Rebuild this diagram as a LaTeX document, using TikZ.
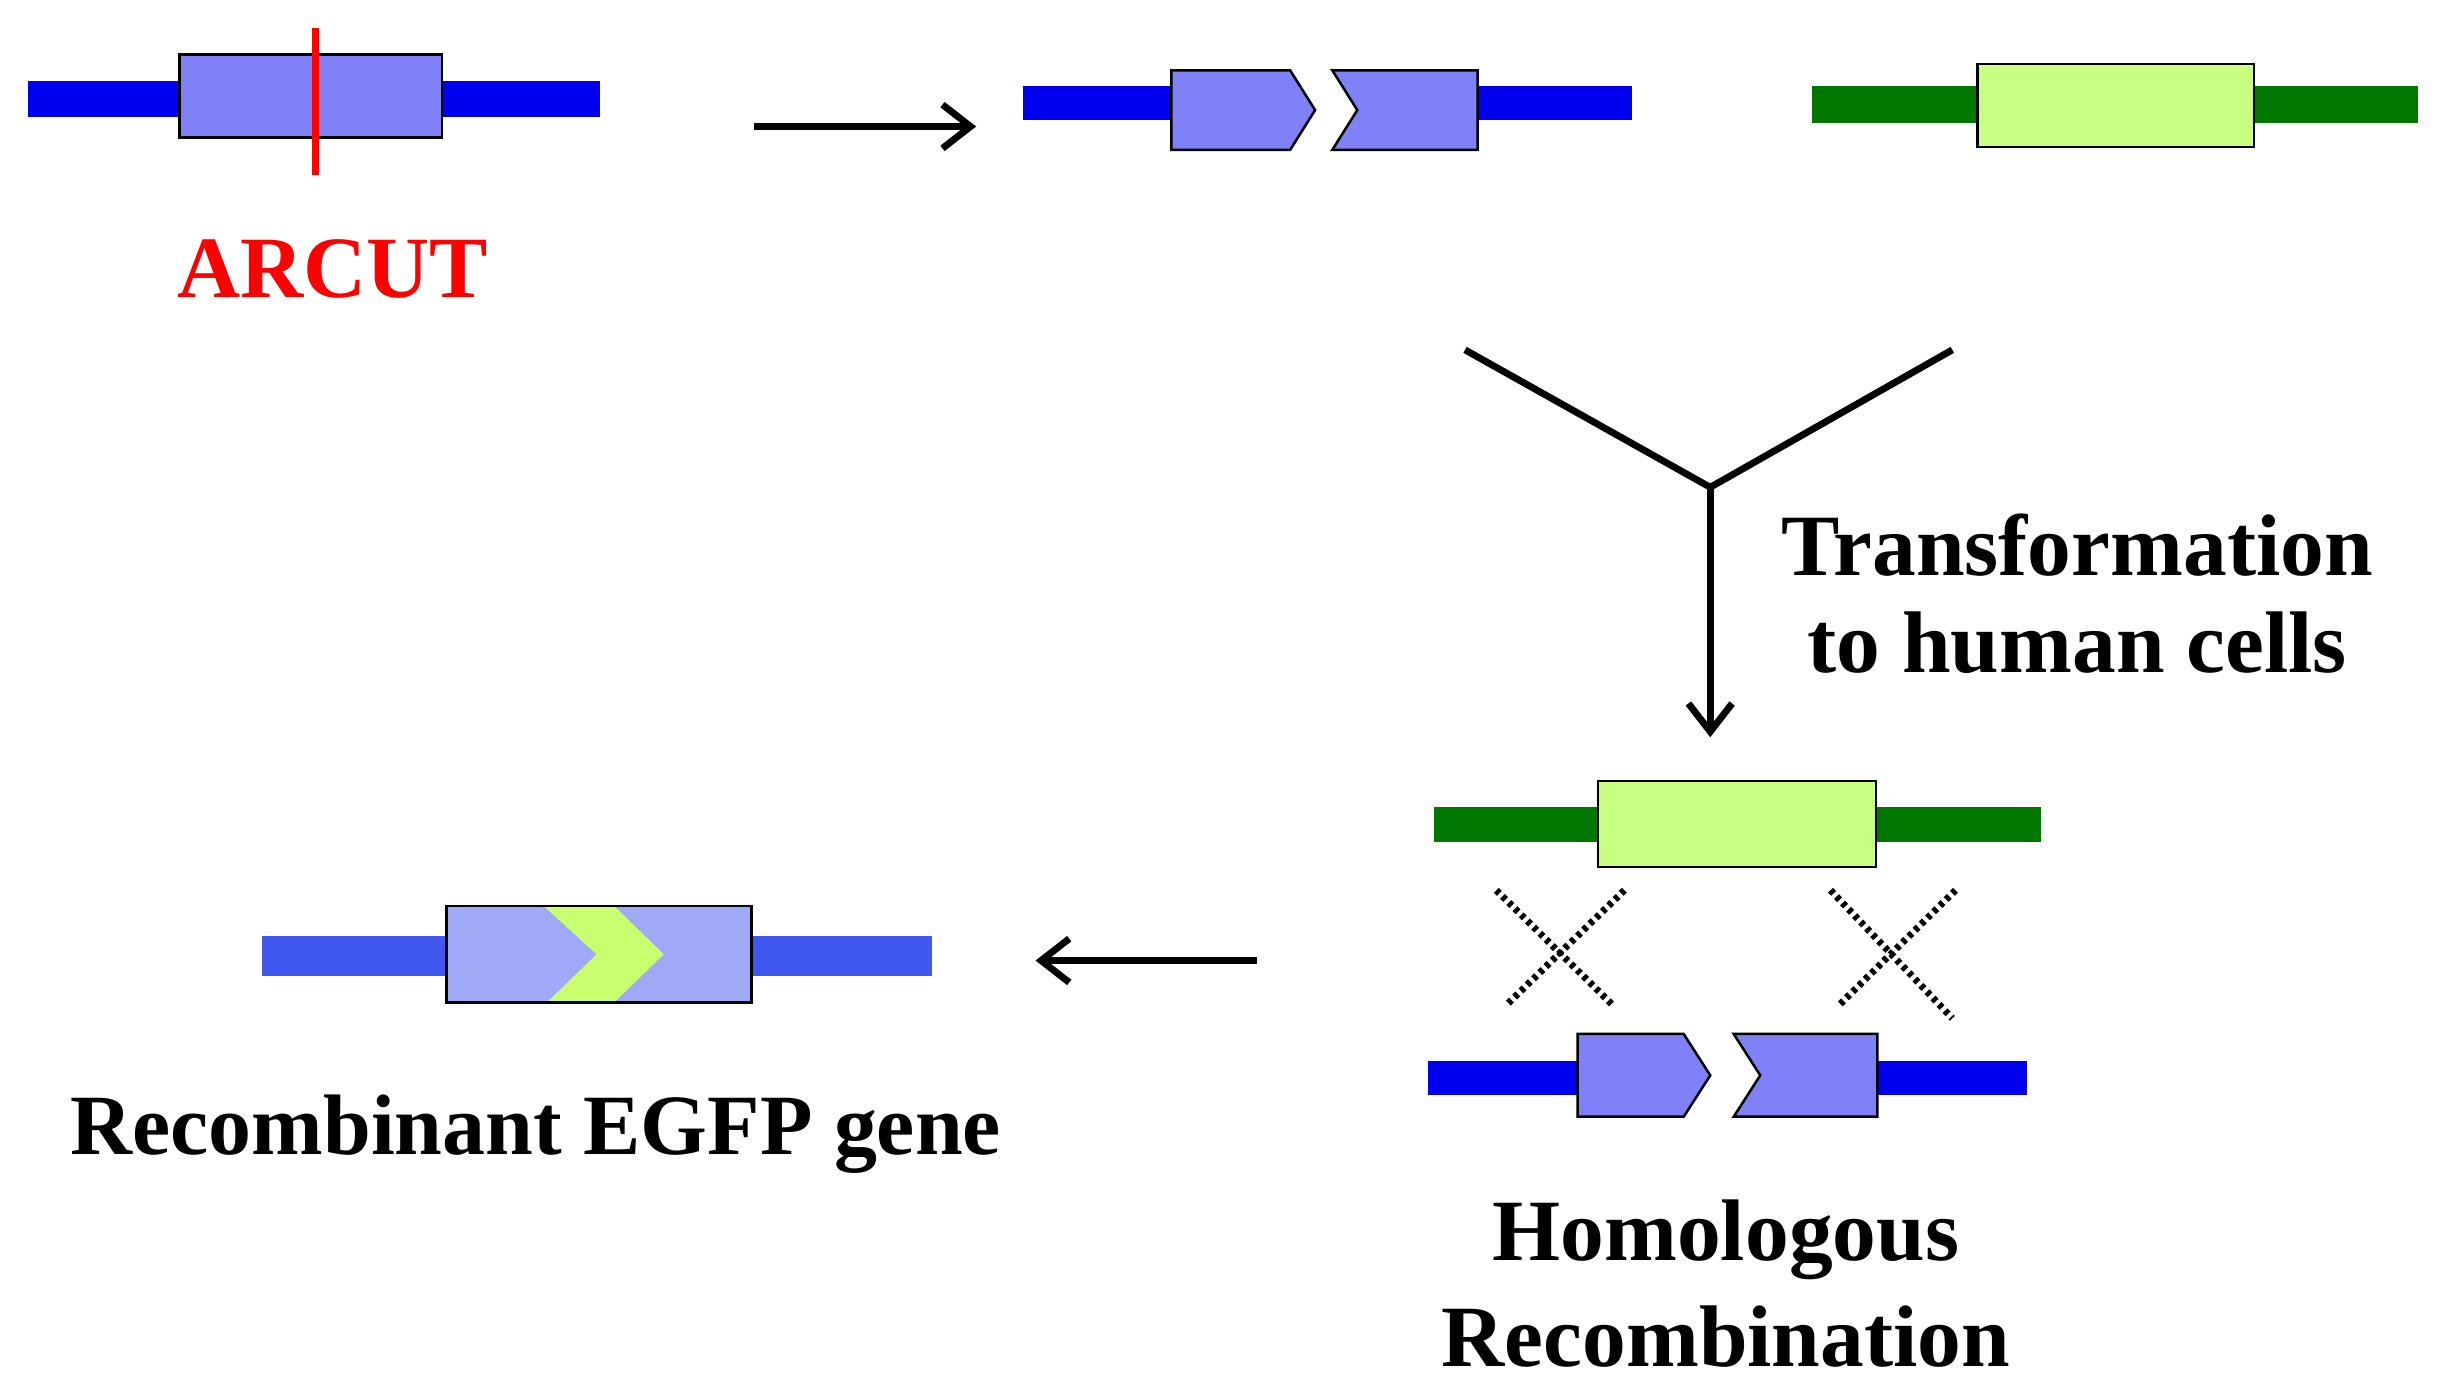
\documentclass[tikz,border=0pt]{standalone}
\usepackage{fontspec}
\setmainfont{Liberation Serif}
\usetikzlibrary{arrows.meta}
\definecolor{dblue}{RGB}{0,0,240}
\definecolor{lblue}{RGB}{64,88,240}
\definecolor{dgreen}{RGB}{0,120,0}
\definecolor{pfill}{RGB}{128,128,248}
\definecolor{lpfill}{RGB}{160,168,248}
\definecolor{gfill}{RGB}{200,255,130}
\definecolor{chev}{RGB}{200,255,110}
\begin{document}
\begin{tikzpicture}[x=0.5pt,y=-0.5pt,
  lbl/.style={font=\fontsize{28}{34}\selectfont\bfseries,align=center,inner sep=0},
  bbar/.style={fill=dblue,draw=none},
  gbar/.style={fill=dgreen,draw=none},
  pbox/.style={fill=pfill,draw=black,line width=0.8pt},
  gbox/.style={fill=gfill,draw=black,line width=0.8pt},
  arr/.style={line width=2.2pt,-{Straight Barb[length=9pt,width=14pt]}},
  dots/.style={line width=2.2pt,dash pattern=on 1.4pt off 1.4pt}]
\useasboundingbox (0,0) rectangle (1568,893);
% top-left
\fill[bbar] (18,52) rectangle (115,75);
\fill[bbar] (283,52) rectangle (384,75);
\node[pbox,minimum width=84pt,minimum height=26.5pt,inner sep=0] (b1) at (199,61.5) {};
\draw[red,line width=2pt] (202,18) -- (202,112);
\node[lbl,text=red] (arcut) at (213,172) {ARCUT};
\coordinate (a1s) at (483,81); \coordinate (a1e) at (625,81);
\draw[arr] (a1s) -- (a1e);
% top-middle
\fill[bbar] (655,55) rectangle (750,77);
\fill[bbar] (946,55) rectangle (1045,77);
\draw[pbox] (750,45) -- (826,45) -- (842,70.5) -- (826,96) -- (750,96) -- cycle;
\draw[pbox] (853,45) -- (946,45) -- (946,96) -- (853,96) -- (869,70.5) -- cycle;
% top-right
\fill[gbar] (1160,55) rectangle (1266,79);
\fill[gbar] (1443,55) rectangle (1548,79);
\node[gbox,minimum width=88.5pt,minimum height=26.5pt,inner sep=0] (g1) at (1354.5,67.5) {};
% Y
\coordinate (yl) at (938,224); \coordinate (yr) at (1250,224); \coordinate (yc) at (1095,312); \coordinate (ye) at (1095,472);
\draw[line width=2.2pt] (yl) -- (yc) -- (yr);
\draw[arr] (yc) -- (ye);
\node[lbl] (tr) at (1330,380) {Transformation\\[-3pt]to human cells};
% bottom-right green
\fill[gbar] (918,517) rectangle (1023,539);
\fill[gbar] (1201,517) rectangle (1307,539);
\node[gbox,minimum width=89pt,minimum height=27.5pt,inner sep=0] (g2) at (1112,527.5) {};
\draw[dots] (958,570) -- (1032,643); \draw[dots] (1040,570) -- (965,643);
\draw[dots] (1172,570) -- (1250,652); \draw[dots] (1252,570) -- (1178,643);
% bottom-right blue
\fill[bbar] (914,679) rectangle (1010,701);
\fill[bbar] (1202,679) rectangle (1298,701);
\draw[pbox] (1010,662) -- (1078,662) -- (1095,688.5) -- (1078,715) -- (1010,715) -- cycle;
\draw[pbox] (1110,662) -- (1202,662) -- (1202,715) -- (1110,715) -- (1127,688.5) -- cycle;
\node[lbl] (hr) at (1105,822) {Homologous\\[0pt]Recombination};
\coordinate (a2s) at (805,615); \coordinate (a2e) at (663,615);
\draw[arr] (a2s) -- (a2e);
% bottom-left
\fill[lblue] (168,599) rectangle (286,625);
\fill[lblue] (481,599) rectangle (597,625);
\node[draw=black,line width=0.8pt,fill=lpfill,minimum width=97.5pt,minimum height=31pt,inner sep=0] (rb) at (383.5,611) {};
\fill[chev] (348,580) -- (393,580) -- (425,611) -- (393,642) -- (350,642) -- (382,611) -- cycle;
\draw[line width=0.8pt] (286,580) rectangle (481,642);
\node[lbl,font=\fontsize{27.5}{34}\selectfont\bfseries] (rg) at (343,726) {Recombinant EGFP gene};
\end{tikzpicture}
\end{document}
